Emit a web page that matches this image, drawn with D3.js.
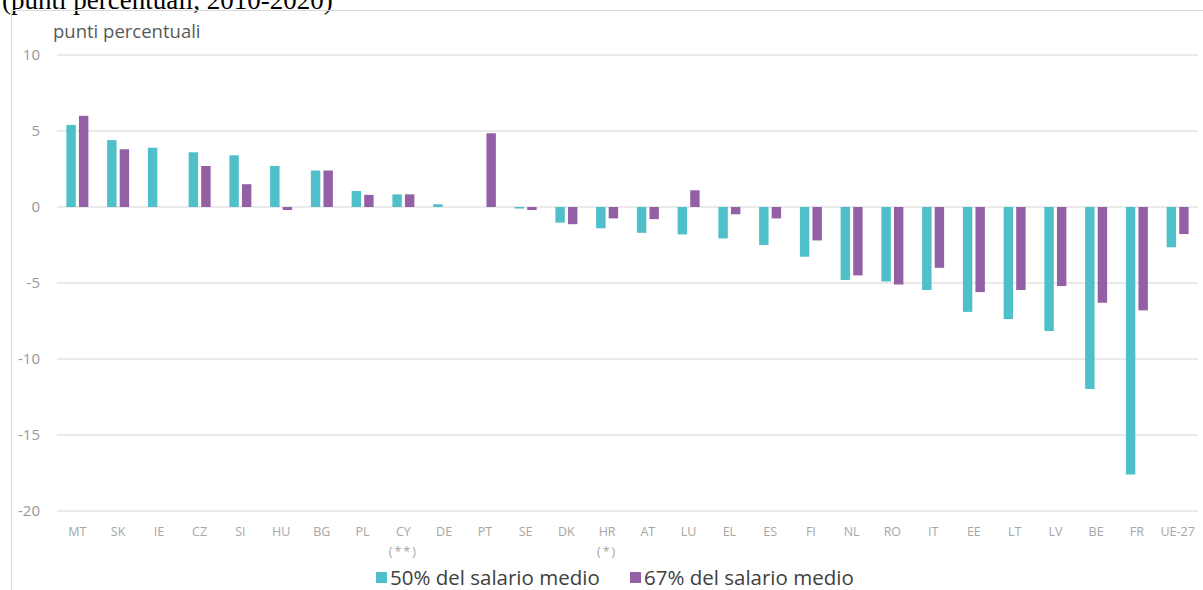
<!DOCTYPE html>
<html lang="it">
<head>
<meta charset="UTF-8">
<title>Variazione punti percentuali 2010-2020</title>
<script src="https://cdn.jsdelivr.net/npm/d3@7"></script>
<style>
body {
    margin: 0;
    padding: 0;
    background: #fff;
}
svg text {
    font-family: 'Open Sans', sans-serif;
}
</style>
</head>
<body>
<div id="chart"></div>
<script>
// Data
const countries = ["MT", "SK", "IE", "CZ", "SI", "HU", "BG", "PL", "CY\n(**)", "DE", "PT", "SE", "DK", "HR\n(*)",
    "AT", "LU", "EL", "ES", "FI", "NL", "RO", "IT", "EE", "LT", "LV", "BE", "FR", "UE-27"];
const salario50 = [5.4, 4.4, 3.9, 3.6, 3.4, 2.7, 2.4, 1.05, 0.83, 0.18, 0, -0.1, -1.03, -1.4,
    -1.7, -1.8, -2.07, -2.5, -3.27, -4.8, -4.9, -5.46, -6.9, -7.37, -8.16, -11.97, -17.6, -2.65];
const salario67 = [6.0, 3.8, 0, 2.7, 1.5, -0.2, 2.4, 0.8, 0.83, 0, 4.85, -0.2, -1.13, -0.75,
    -0.8, 1.1, -0.48, -0.75, -2.2, -4.5, -5.1, -4.0, -5.6, -5.46, -5.2, -6.3, -6.8, -1.78];
const yTicks = [10, 5, 0, -5, -10, -15, -20];
const seriesNames = ["50% del salario medio", "67% del salario medio"];
const seriesColors = ["#4fbfca", "#9360a5"];

const width = 1203, height = 590;
const svg = d3.select("#chart").append("svg")
    .attr("width", width).attr("height", height);

// cropped caption from the source page
svg.append("text")
    .attr("x", 2).attr("y", 9)
    .style("font-family", "'Liberation Serif', serif")
    .style("font-size", "27px")
    .attr("fill", "#000")
    .text("(punti percentuali, 2010-2020)");

// frame
svg.append("path")
    .attr("d", `M11.5,${height} V10.5 H${width}`)
    .attr("fill", "none")
    .attr("stroke", "#d9d9d9")
    .attr("stroke-width", 1);

const x = d3.scaleBand().domain(countries).range([57, 1198]);
const y = d3.scaleLinear().domain([-20, 10]).range([511, 55]);
const sub = d3.scaleBand().domain([0, 1]).range([-11, 11]).paddingInner(0.25);

// gridlines
svg.append("g").selectAll("line")
    .data(yTicks)
    .join("line")
    .attr("x1", 57).attr("x2", 1198)
    .attr("y1", d => y(d)).attr("y2", d => y(d))
    .attr("stroke", "#e3e3e3")
    .attr("stroke-width", 1.5);

// y axis labels
svg.append("g").selectAll("text")
    .data(yTicks)
    .join("text")
    .attr("x", 40)
    .attr("y", d => y(d) + 5)
    .attr("text-anchor", "end")
    .attr("fill", "#999")
    .style("font-size", "15px")
    .text(d => d);

svg.append("text")
    .attr("x", 53).attr("y", 38)
    .attr("fill", "#595959")
    .style("font-size", "18.5px")
    .text("punti percentuali");

// bars
const series = [salario50, salario67];
series.forEach((vals, s) => {
    svg.append("g").selectAll("rect")
        .data(vals)
        .join("rect")
        .attr("x", (d, i) => x(countries[i]) + x.bandwidth() / 2 + sub(s))
        .attr("width", sub.bandwidth())
        .attr("y", d => y(Math.max(0, d)))
        .attr("height", d => Math.abs(y(d) - y(0)))
        .attr("fill", seriesColors[s]);
});

// x labels
const xl = svg.append("g").selectAll("text")
    .data(countries)
    .join("text")
    .attr("x", d => x(d) + x.bandwidth() / 2)
    .attr("y", 536)
    .attr("text-anchor", "middle")
    .attr("fill", "#a6a6a6")
    .style("font-size", "12.5px");
xl.each(function (d) {
    const parts = d.split("\n");
    d3.select(this).selectAll("tspan")
        .data(parts)
        .join("tspan")
        .attr("x", x(d) + x.bandwidth() / 2)
        .attr("dy", (p, i) => i === 0 ? 0 : 20)
        .attr("letter-spacing", (p, i) => i === 0 ? 0 : 2)
        .text(p => p);
});

// legend
const legendX = [376, 630];
seriesNames.forEach((name, s) => {
    const g = svg.append("g").attr("transform", `translate(${legendX[s]},572)`);
    g.append("rect")
        .attr("width", 11).attr("height", 11)
        .attr("fill", seriesColors[s]);
    g.append("text")
        .attr("x", 14).attr("y", 13)
        .attr("fill", "#404040")
        .style("font-size", "20.5px")
        .text(name);
});
</script>
</body>
</html>
